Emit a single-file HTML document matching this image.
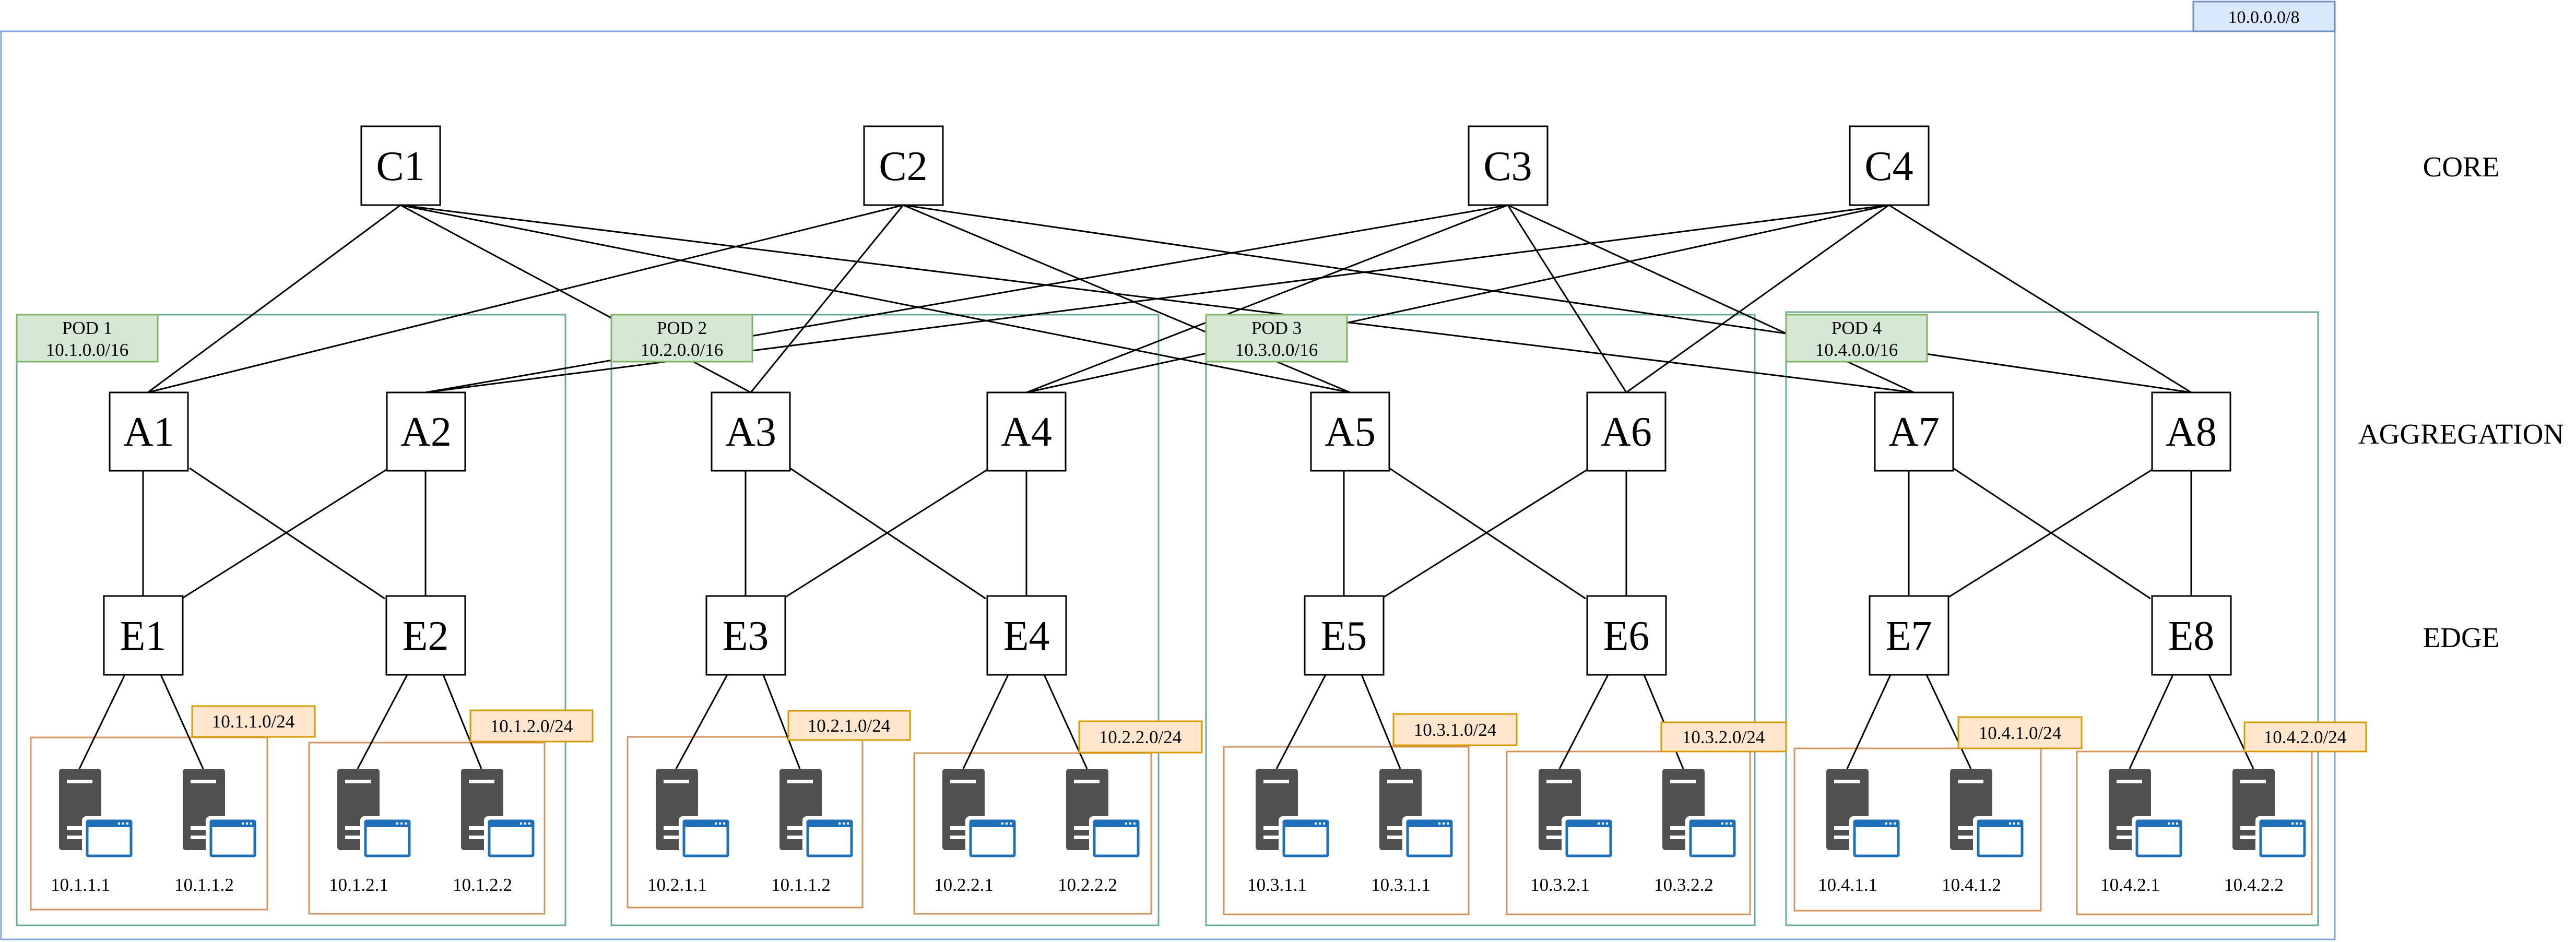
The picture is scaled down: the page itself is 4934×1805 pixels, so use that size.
<!DOCTYPE html>
<html><head><meta charset="utf-8"><style>
html,body{margin:0;padding:0;background:#fff;}
svg{display:block;}
text{font-family:"Liberation Serif",serif;fill:#000;}
</style></head><body>
<svg width="4934" height="1805" viewBox="0 0 4934 1805" xmlns="http://www.w3.org/2000/svg">
<defs>
<g id="srv">
<rect x="0" y="0" width="81" height="156" rx="6" fill="#505050"/>
<rect x="15" y="21" width="49" height="7" fill="#fff"/>
<rect x="15" y="110" width="40" height="7" fill="#fff"/>
<rect x="15" y="128" width="40" height="7" fill="#fff"/>
<rect x="44" y="91" width="98" height="82" rx="8" fill="#fff"/>
<rect x="54" y="100" width="84" height="67" rx="2" fill="#fff" stroke="#1f70ba" stroke-width="5"/>
<rect x="54" y="100" width="84" height="12" fill="#1f70ba"/>
<rect x="113" y="103" width="4" height="4" fill="#fff"/>
<rect x="121" y="103" width="4" height="4" fill="#fff"/>
<rect x="129" y="103" width="4" height="4" fill="#fff"/>
</g>
</defs>

<!-- outer -->
<rect x="2" y="60" width="4470" height="1740" fill="none" stroke="#7ea6e0" stroke-width="3"/>
<rect x="4201" y="3" width="271" height="57" fill="#dae8fc" stroke="#6c8ebf" stroke-width="3"/>
<text x="4336" y="44" font-size="34" text-anchor="middle">10.0.0.0/8</text>

<!-- pods -->
<g fill="none" stroke="#67ab9f" stroke-width="3">
<rect x="32" y="603" width="1051" height="1170"/>
<rect x="1171" y="603" width="1048" height="1170"/>
<rect x="2310" y="603" width="1051" height="1170"/>
<rect x="3421" y="598" width="1019" height="1175"/>
</g>

<!-- subnets -->
<g fill="none" stroke="#d4945c" stroke-width="3">
<rect x="59" y="1413" width="453" height="330"/>
<rect x="592" y="1423" width="451" height="328"/>
<rect x="1202" y="1412" width="450" height="327"/>
<rect x="1751" y="1443" width="454" height="308"/>
<rect x="2344" y="1431" width="469" height="321"/>
<rect x="2886" y="1440" width="466" height="312"/>
<rect x="3437" y="1434" width="472" height="311"/>
<rect x="3978" y="1440" width="450" height="312"/>
</g>

<!-- core-agg lines -->
<g stroke="#000" stroke-width="3">
<line x1="767" y1="393" x2="283" y2="752"/>
<line x1="767" y1="393" x2="1438" y2="752"/>
<line x1="767" y1="393" x2="2586" y2="752"/>
<line x1="767" y1="393" x2="3666" y2="752"/>
<line x1="1730" y1="393" x2="283" y2="752"/>
<line x1="1730" y1="393" x2="1438" y2="752"/>
<line x1="1730" y1="393" x2="2586" y2="752"/>
<line x1="1730" y1="393" x2="4197" y2="752"/>
<line x1="2888" y1="393" x2="815" y2="752"/>
<line x1="2888" y1="393" x2="1966" y2="752"/>
<line x1="2888" y1="393" x2="3115" y2="752"/>
<line x1="2888" y1="393" x2="3666" y2="752"/>
<line x1="3618" y1="393" x2="815" y2="752"/>
<line x1="3618" y1="393" x2="1966" y2="752"/>
<line x1="3618" y1="393" x2="3115" y2="752"/>
<line x1="3618" y1="393" x2="4197" y2="752"/>
</g>

<!-- agg-edge lines -->
<g stroke="#000" stroke-width="3">
<line x1="274" y1="902" x2="274" y2="1142"/><line x1="815" y1="902" x2="815" y2="1142"/>
<line x1="363" y1="897" x2="737" y2="1147"/><line x1="740" y1="900" x2="351" y2="1145"/>
<line x1="1428" y1="902" x2="1428" y2="1142"/><line x1="1966" y1="902" x2="1966" y2="1142"/>
<line x1="1513" y1="897" x2="1888" y2="1147"/><line x1="1891" y1="900" x2="1503" y2="1145"/>
<line x1="2574" y1="902" x2="2574" y2="1142"/><line x1="3115" y1="902" x2="3115" y2="1142"/>
<line x1="2661" y1="897" x2="3037" y2="1147"/><line x1="3040" y1="900" x2="2649" y2="1145"/>
<line x1="3656" y1="902" x2="3656" y2="1142"/><line x1="4197" y1="902" x2="4197" y2="1142"/>
<line x1="3741" y1="897" x2="4119" y2="1147"/><line x1="4122" y1="900" x2="3731" y2="1145"/>
</g>

<!-- edge-server lines -->
<g stroke="#000" stroke-width="3">
<line x1="239" y1="1293" x2="152" y2="1473"/><line x1="308" y1="1293" x2="389" y2="1473"/>
<line x1="780" y1="1293" x2="685" y2="1473"/><line x1="849" y1="1293" x2="922" y2="1473"/>
<line x1="1393" y1="1293" x2="1295" y2="1473"/><line x1="1462" y1="1293" x2="1532" y2="1473"/>
<line x1="1931" y1="1293" x2="1845" y2="1473"/><line x1="2000" y1="1293" x2="2082" y2="1473"/>
<line x1="2539" y1="1293" x2="2445" y2="1473"/><line x1="2608" y1="1293" x2="2682" y2="1473"/>
<line x1="3080" y1="1293" x2="2987" y2="1473"/><line x1="3149" y1="1293" x2="3224" y2="1473"/>
<line x1="3621" y1="1293" x2="3538" y2="1473"/><line x1="3690" y1="1293" x2="3775" y2="1473"/>
<line x1="4162" y1="1293" x2="4079" y2="1473"/><line x1="4231" y1="1293" x2="4316" y2="1473"/>
</g>

<!-- nodes -->
<g fill="#fff" stroke="#000" stroke-width="3">
<rect x="692" y="242" width="151" height="151"/>
<rect x="1655" y="242" width="151" height="151"/>
<rect x="2813" y="242" width="151" height="151"/>
<rect x="3543" y="242" width="151" height="151"/>
<rect x="210" y="752" width="150" height="150"/>
<rect x="741" y="752" width="150" height="150"/>
<rect x="1363" y="752" width="150" height="150"/>
<rect x="1891" y="752" width="150" height="150"/>
<rect x="2511" y="752" width="150" height="150"/>
<rect x="3040" y="752" width="150" height="150"/>
<rect x="3591" y="752" width="150" height="150"/>
<rect x="4122" y="752" width="150" height="150"/>
<rect x="199" y="1142" width="151" height="151"/>
<rect x="740" y="1142" width="151" height="151"/>
<rect x="1353" y="1142" width="151" height="151"/>
<rect x="1891" y="1142" width="151" height="151"/>
<rect x="2499" y="1142" width="151" height="151"/>
<rect x="3040" y="1142" width="151" height="151"/>
<rect x="3581" y="1142" width="151" height="151"/>
<rect x="4122" y="1142" width="151" height="151"/>
</g>
<g font-size="80" text-anchor="middle">
<text x="767" y="345">C1</text><text x="1730" y="345">C2</text><text x="2888" y="345">C3</text><text x="3618" y="345">C4</text>
<text x="285" y="854">A1</text><text x="816" y="854">A2</text><text x="1438" y="854">A3</text><text x="1966" y="854">A4</text>
<text x="2586" y="854">A5</text><text x="3115" y="854">A6</text><text x="3666" y="854">A7</text><text x="4197" y="854">A8</text>
<text x="274" y="1245">E1</text><text x="815" y="1245">E2</text><text x="1428" y="1245">E3</text><text x="1966" y="1245">E4</text>
<text x="2574" y="1245">E5</text><text x="3115" y="1245">E6</text><text x="3656" y="1245">E7</text><text x="4197" y="1245">E8</text>
</g>

<!-- pod labels -->
<g fill="#d5e8d4" stroke="#82b366" stroke-width="3">
<rect x="32" y="603" width="270" height="90"/>
<rect x="1171" y="603" width="270" height="90"/>
<rect x="2310" y="603" width="270" height="90"/>
<rect x="3421" y="603" width="270" height="90"/>
</g>
<g font-size="35" text-anchor="middle">
<text x="167" y="640">POD 1</text><text x="167" y="682">10.1.0.0/16</text>
<text x="1306" y="640">POD 2</text><text x="1306" y="682">10.2.0.0/16</text>
<text x="2445" y="640">POD 3</text><text x="2445" y="682">10.3.0.0/16</text>
<text x="3556" y="640">POD 4</text><text x="3556" y="682">10.4.0.0/16</text>
</g>

<!-- subnet labels -->
<g fill="#ffe6cc" stroke="#d79b00" stroke-width="3">
<rect x="368" y="1353" width="235" height="59"/>
<rect x="901" y="1361" width="234" height="60"/>
<rect x="1510" y="1362" width="233" height="56"/>
<rect x="2067" y="1382" width="235" height="60"/>
<rect x="2669" y="1368" width="236" height="60"/>
<rect x="3182" y="1384" width="239" height="56"/>
<rect x="3751" y="1374" width="236" height="60"/>
<rect x="4299" y="1384" width="233" height="56"/>
</g>
<g font-size="35" text-anchor="middle">
<text x="485" y="1394">10.1.1.0/24</text>
<text x="1018" y="1403">10.1.2.0/24</text>
<text x="1626" y="1402">10.2.1.0/24</text>
<text x="2184" y="1424">10.2.2.0/24</text>
<text x="2787" y="1410">10.3.1.0/24</text>
<text x="3301" y="1424">10.3.2.0/24</text>
<text x="3869" y="1416">10.4.1.0/24</text>
<text x="4415" y="1424">10.4.2.0/24</text>
</g>

<!-- servers -->
<use href="#srv" x="113" y="1473"/><use href="#srv" x="350" y="1473"/>
<use href="#srv" x="646" y="1473"/><use href="#srv" x="883" y="1473"/>
<use href="#srv" x="1256" y="1473"/><use href="#srv" x="1493" y="1473"/>
<use href="#srv" x="1805" y="1473"/><use href="#srv" x="2042" y="1473"/>
<use href="#srv" x="2405" y="1473"/><use href="#srv" x="2642" y="1473"/>
<use href="#srv" x="2947" y="1473"/><use href="#srv" x="3184" y="1473"/>
<use href="#srv" x="3498" y="1473"/><use href="#srv" x="3735" y="1473"/>
<use href="#srv" x="4039" y="1473"/><use href="#srv" x="4276" y="1473"/>
<g font-size="35" text-anchor="middle">
<text x="154" y="1707">10.1.1.1</text><text x="391" y="1707">10.1.1.2</text>
<text x="687" y="1707">10.1.2.1</text><text x="924" y="1707">10.1.2.2</text>
<text x="1297" y="1707">10.2.1.1</text><text x="1534" y="1707">10.1.1.2</text>
<text x="1846" y="1707">10.2.2.1</text><text x="2083" y="1707">10.2.2.2</text>
<text x="2446" y="1707">10.3.1.1</text><text x="2683" y="1707">10.3.1.1</text>
<text x="2988" y="1707">10.3.2.1</text><text x="3225" y="1707">10.3.2.2</text>
<text x="3539" y="1707">10.4.1.1</text><text x="3776" y="1707">10.4.1.2</text>
<text x="4080" y="1707">10.4.2.1</text><text x="4317" y="1707">10.4.2.2</text>
</g>

<!-- layer labels -->
<g font-size="55" text-anchor="middle">
<text x="4714" y="338">CORE</text>
<text x="4714" y="850">AGGREGATION</text>
<text x="4714" y="1240">EDGE</text>
</g>
</svg>
</body></html>
